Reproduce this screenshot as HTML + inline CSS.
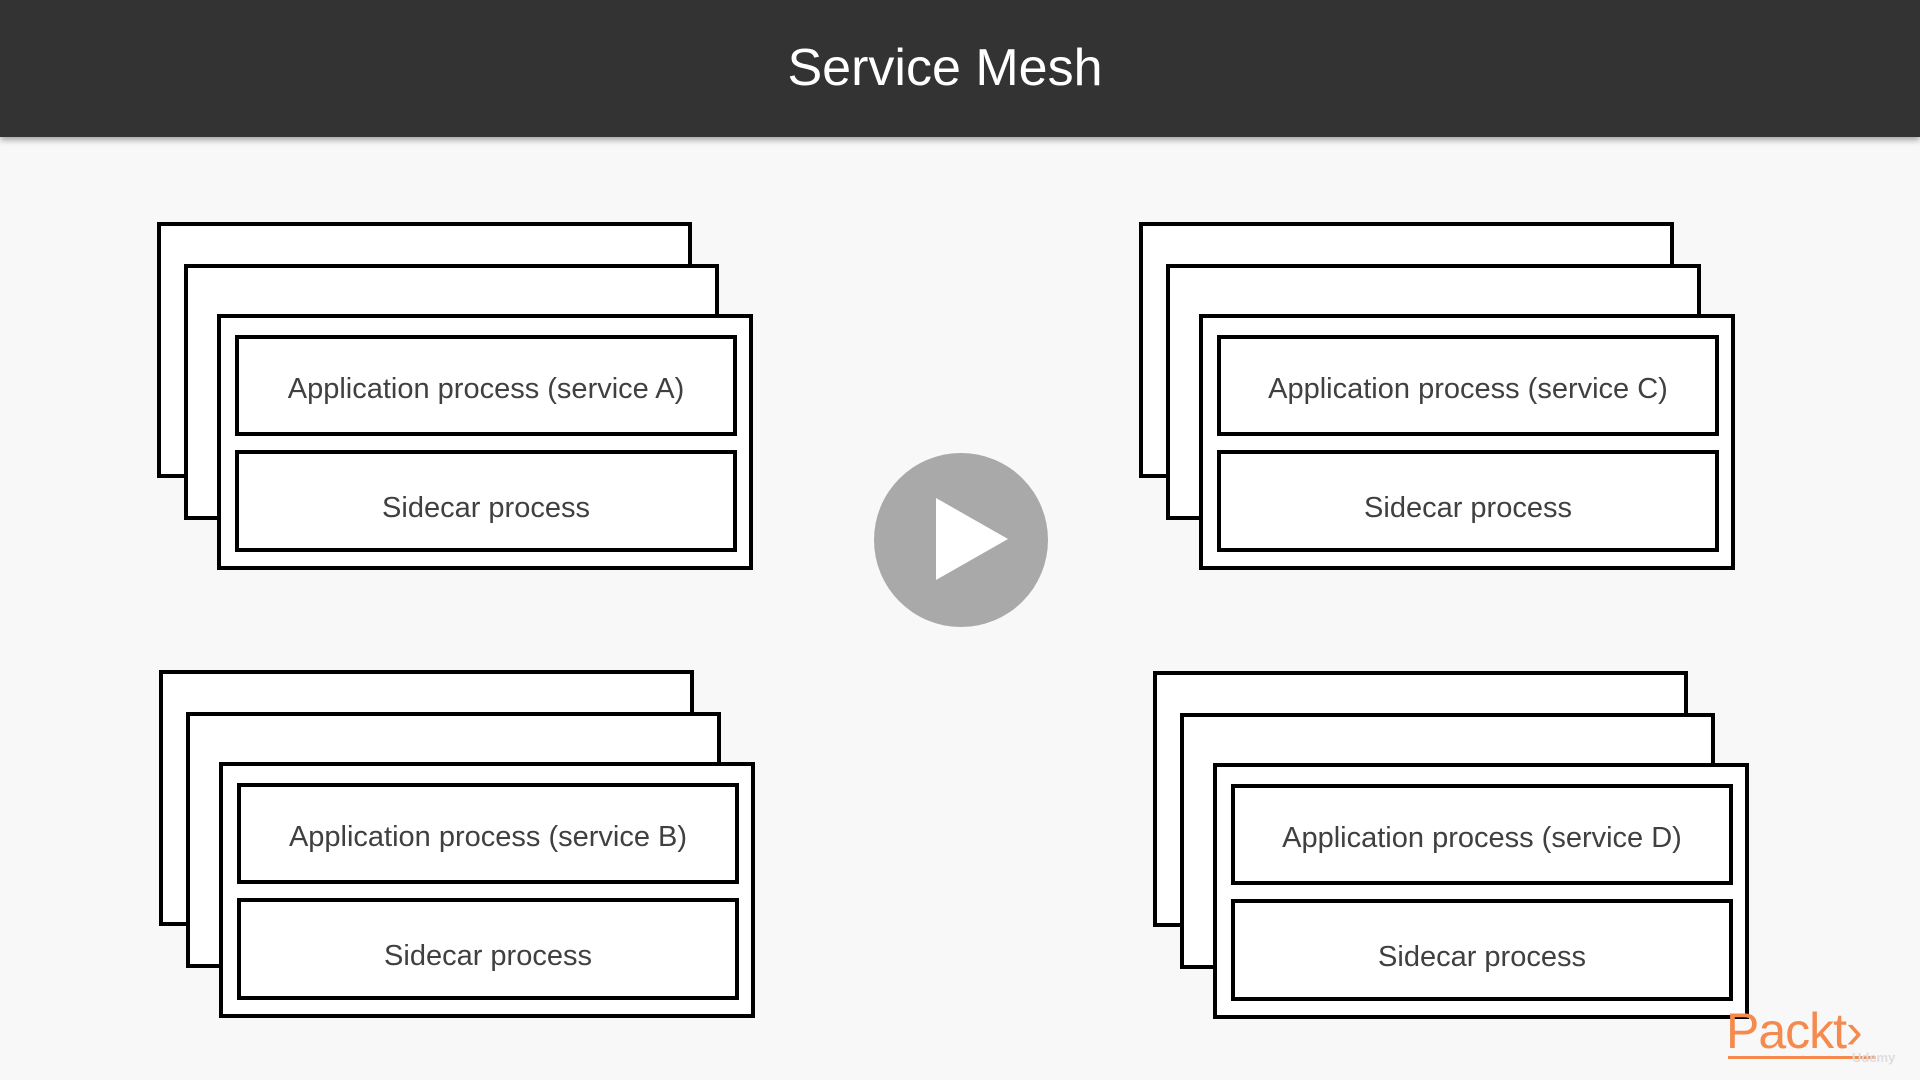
<!DOCTYPE html>
<html><head><meta charset="utf-8"><style>
*{margin:0;padding:0;box-sizing:border-box}
body{width:1920px;height:1080px;background:#f8f8f8;position:relative;overflow:hidden;font-family:"Liberation Sans",sans-serif}
.hdr{position:absolute;left:0;top:0;width:1920px;height:137px;background:#333;box-shadow:0 3px 6px rgba(0,0,0,.35);color:#fff;font-size:52px;text-align:center;line-height:136px;padding-right:30px}
.r{position:absolute;border:4px solid #000;background:#fff}
.t{display:flex;align-items:center;justify-content:center;font-size:29px;color:#404040}
.g{position:absolute;width:500px;height:360px}
</style></head><body>
<div class="hdr">Service Mesh</div>

<div class="g" style="left:0;top:0">
<div class="r" style="left:157px;top:222px;width:535px;height:256px"></div>
<div class="r" style="left:184px;top:264px;width:535px;height:256px"></div>
<div class="r" style="left:217px;top:314px;width:536px;height:256px"></div>
<div class="r t" style="left:235px;top:335px;width:502px;height:101px;padding-top:8px">Application process (service A)</div>
<div class="r t" style="left:235px;top:450px;width:502px;height:102px;padding-top:14px">Sidecar process</div>
</div>

<div class="g" style="left:982px;top:0">
<div class="r" style="left:157px;top:222px;width:535px;height:256px"></div>
<div class="r" style="left:184px;top:264px;width:535px;height:256px"></div>
<div class="r" style="left:217px;top:314px;width:536px;height:256px"></div>
<div class="r t" style="left:235px;top:335px;width:502px;height:101px;padding-top:8px">Application process (service C)</div>
<div class="r t" style="left:235px;top:450px;width:502px;height:102px;padding-top:14px">Sidecar process</div>
</div>

<div class="g" style="left:2px;top:448px">
<div class="r" style="left:157px;top:222px;width:535px;height:256px"></div>
<div class="r" style="left:184px;top:264px;width:535px;height:256px"></div>
<div class="r" style="left:217px;top:314px;width:536px;height:256px"></div>
<div class="r t" style="left:235px;top:335px;width:502px;height:101px;padding-top:8px">Application process (service B)</div>
<div class="r t" style="left:235px;top:450px;width:502px;height:102px;padding-top:14px">Sidecar process</div>
</div>

<div class="g" style="left:996px;top:449px">
<div class="r" style="left:157px;top:222px;width:535px;height:256px"></div>
<div class="r" style="left:184px;top:264px;width:535px;height:256px"></div>
<div class="r" style="left:217px;top:314px;width:536px;height:256px"></div>
<div class="r t" style="left:235px;top:335px;width:502px;height:101px;padding-top:8px">Application process (service D)</div>
<div class="r t" style="left:235px;top:450px;width:502px;height:102px;padding-top:14px">Sidecar process</div>
</div>

<svg style="position:absolute;left:873px;top:453px" width="176" height="176">
<circle cx="88" cy="87" r="87" fill="#a9a9a9"/>
<polygon points="63,45 63,127 135,86" fill="#fff"/>
</svg>

<div style="position:absolute;left:1726px;top:1003px;font-size:50px;color:#f58a4f;font-family:'Liberation Sans',sans-serif;letter-spacing:-1px;line-height:56px">Packt&#8250;</div>
<div style="position:absolute;left:1728px;top:1056px;width:148px;height:3px;background:#f58a4f"></div>
<div style="position:absolute;left:1852px;top:1050px;font-size:13px;color:#ddd;font-weight:bold">Udemy</div>
</body></html>
